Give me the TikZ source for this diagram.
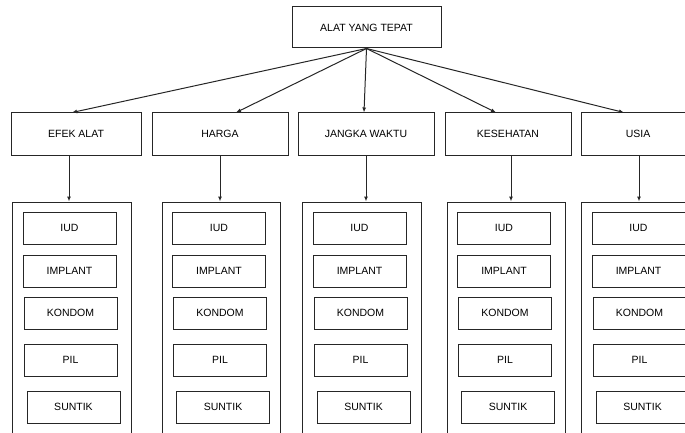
\documentclass[tikz,border=0pt]{standalone}
\usepackage{fontspec}
\setmainfont{Liberation Sans}
\usetikzlibrary{
  arrows.meta,
  positioning,
}
\tikzset{
  >={Latex[length=5pt,width=4pt]},
  box/.style={rectangle,draw=black!85,line width=1pt,font=\fontsize{10.5}{12}\selectfont},
  wadah/.style={rectangle,draw=black!85,line width=1pt,minimum width=119,minimum height=250},
  pilihan/.style={box,minimum width=93,minimum height=32},
}

\begin{document}
\begin{tikzpicture}[x=1pt,y=1pt,node distance=10pt and 0pt]
      \useasboundingbox (0,0) rectangle (685,432);

      \node[box,minimum width=149,minimum height=41] (tepat) at (366.5,404.5) {ALAT YANG TEPAT};

      \node[box,minimum width=130,minimum height=42] (efek)  at (76,298)  {EFEK ALAT};
      \node[box,minimum width=136,minimum height=42] (harga) at (220,298) {HARGA};
      \node[box,minimum width=136,minimum height=42] (waktu) at (366,298) {JANGKA WAKTU};
      \node[box,minimum width=126,minimum height=42] (sehat) at (508,298) {KESEHATAN};
      \node[box,minimum width=114,minimum height=42] (usia)  at (638,298) {USIA};

      \draw[->,line width=1pt,black!85] (tepat.south) -- ([xshift=-4]efek.north);
      \draw[->,line width=1pt,black!85] (tepat.south) -- ([xshift=16]harga.north);
      \draw[->,line width=1pt,black!85] (tepat.south) -- ([xshift=-2]waktu.north);
      \draw[->,line width=1pt,black!85] (tepat.south) -- ([xshift=-12]sehat.north);
      \draw[->,line width=1pt,black!85] (tepat.south) -- ([xshift=-14]usia.north);

      \node[wadah] (wadah1) at (71.5,105) {};
      \node[wadah,minimum width=118] (wadah2) at (221,105) {};
      \node[wadah] (wadah3) at (361.5,105) {};
      \node[wadah,minimum width=118] (wadah4) at (506,105) {};
      \node[wadah] (wadah5) at (640.5,105) {};

      \draw[->,line width=1pt,black!85] ([xshift=-7]efek.south) -- ([xshift=-7]efek.south |- wadah1.north);
      \draw[->,line width=1pt,black!85] (harga.south) -- (harga.south |- wadah2.north);
      \draw[->,line width=1pt,black!85] (waktu.south) -- (waktu.south |- wadah3.north);
      \draw[->,line width=1pt,black!85] ([xshift=3]sehat.south) -- ([xshift=3]sehat.south |- wadah4.north);
      \draw[->,line width=1pt,black!85] ([xshift=1]usia.south) -- ([xshift=1]usia.south |- wadah5.north);

      % efek alat
      \node[pilihan,xshift=-2] (iud1) [below=of wadah1.north] {IUD};
      \node[pilihan] (implant1) [below=of iud1] {IMPLANT};
      \node[pilihan,xshift=1] (kondom1) [below=9pt of implant1] {KONDOM};
      \node[pilihan] (pil1) [below=14pt of kondom1] {PIL};
      \node[pilihan,xshift=3] (suntik1) [below=14pt of pil1] {SUNTIK};

      % harga
      \node[pilihan,xshift=-2] (iud2) [below=of wadah2.north] {IUD};
      \node[pilihan] (implant2) [below=of iud2] {IMPLANT};
      \node[pilihan,xshift=1] (kondom2) [below=9pt of implant2] {KONDOM};
      \node[pilihan] (pil2) [below=14pt of kondom2] {PIL};
      \node[pilihan,xshift=3] (suntik2) [below=14pt of pil2] {SUNTIK};

      % jangka waktu
      \node[pilihan,xshift=-2] (iud3) [below=of wadah3.north] {IUD};
      \node[pilihan] (implant3) [below=of iud3] {IMPLANT};
      \node[pilihan,xshift=1] (kondom3) [below=9pt of implant3] {KONDOM};
      \node[pilihan] (pil3) [below=14pt of kondom3] {PIL};
      \node[pilihan,xshift=3] (suntik3) [below=14pt of pil3] {SUNTIK};

      % kesehatan
      \node[pilihan,xshift=-2] (iud4) [below=of wadah4.north] {IUD};
      \node[pilihan] (implant4) [below=of iud4] {IMPLANT};
      \node[pilihan,xshift=1] (kondom4) [below=9pt of implant4] {KONDOM};
      \node[pilihan] (pil4) [below=14pt of kondom4] {PIL};
      \node[pilihan,xshift=3] (suntik4) [below=14pt of pil4] {SUNTIK};

      % usia
      \node[pilihan,xshift=-2] (iud5) [below=of wadah5.north] {IUD};
      \node[pilihan] (implant5) [below=of iud5] {IMPLANT};
      \node[pilihan,xshift=1] (kondom5) [below=9pt of implant5] {KONDOM};
      \node[pilihan] (pil5) [below=14pt of kondom5] {PIL};
      \node[pilihan,xshift=3] (suntik5) [below=14pt of pil5] {SUNTIK};

\end{tikzpicture}
\end{document}
